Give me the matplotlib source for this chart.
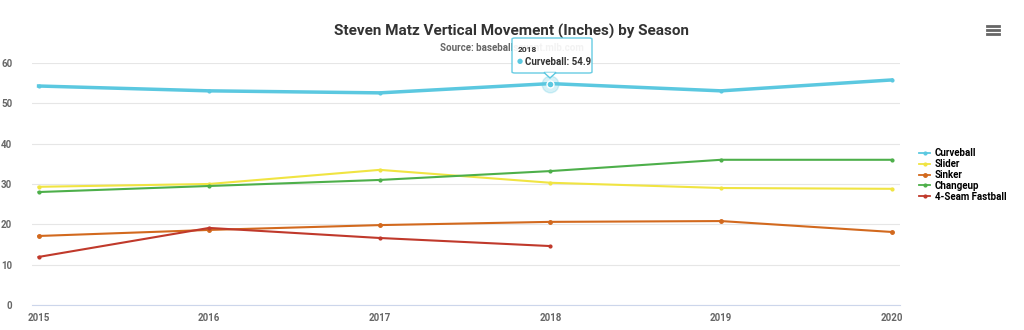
import matplotlib.pyplot as plt
from matplotlib.patches import FancyBboxPatch, Polygon

plt.rcParams['font.family'] = ['Roboto', 'DejaVu Sans']

seasons = [2015, 2016, 2017, 2018, 2019, 2020]
curveball = [54.3, 53.1, 52.6, 54.9, 53.1, 55.8]
slider = [29.3, 30.0, 33.5, 30.3, 29.0, 28.8]
sinker = [17.1, 18.6, 19.8, 20.6, 20.8, 18.1]
changeup = [28.0, 29.5, 31.0, 33.2, 36.0, 36.0]
fastball_years = [2015, 2016, 2017, 2018]
fastball = [11.9, 19.1, 16.6, 14.6]

fig = plt.figure(figsize=(10.24, 3.3), dpi=100)
ax = fig.add_axes([0.031, 0.076, 0.848, 0.733])

ax.plot(seasons, curveball, color='#5bc8e0', lw=2.5, marker='o', ms=2, label='Curveball')
ax.plot(seasons, slider, color='#f0e442', lw=1.5, marker='o', ms=2, label='Slider')
ax.plot(seasons, sinker, color='#d2691e', lw=1.5, marker='o', ms=2.5, label='Sinker')
ax.plot(seasons, changeup, color='#4daf4a', lw=1.5, marker='o', ms=2, label='Changeup')
ax.plot(fastball_years, fastball, color='#c0392b', lw=1.5, marker='o', ms=2, label='4-Seam Fastball')

# hovered point
ax.plot(2018, curveball[3], 'o', color='#5bc8e0', ms=12, alpha=0.25, zorder=5)
ax.plot(2018, curveball[3], 'o', color='#5bc8e0', mec='white', ms=5, zorder=6)

ax.set_xlim(2014.96, 2020.05)
ax.set_ylim(0, 60)
ax.set_xticks(seasons)
ax.set_yticks(range(0, 61, 10))
ax.grid(axis='y', color='#e6e6e6', lw=0.8)
ax.set_axisbelow(True)
for s in ['top', 'right', 'left']:
    ax.spines[s].set_visible(False)
ax.spines['bottom'].set_color('#ccd6eb')
ax.tick_params(axis='both', length=0, labelsize=7, labelcolor='#666666')
ax.tick_params(axis='x', pad=6)
ax.tick_params(axis='y', pad=14)
for lab in ax.get_xticklabels() + ax.get_yticklabels():
    lab.set_fontweight('bold')

fig.text(0.5, 0.905, 'Steven Matz Vertical Movement (Inches) by Season', ha='center',
         va='center', fontsize=11, fontweight='bold', color='#333333')
fig.text(0.5, 0.855, 'Source: baseballsavant.mlb.com', ha='center', va='center',
         fontsize=7, fontweight='bold', color='#666666')

# tooltip
tip = FancyBboxPatch((512 / 1024, 1 - 73 / 330), 80 / 1024, 35 / 330,
                     boxstyle='round,pad=0,rounding_size=0.003', transform=fig.transFigure,
                     facecolor='white', edgecolor='#5bc8e0', lw=1, alpha=0.92, zorder=10)
fig.patches.append(tip)
arrow = Polygon([(544 / 1024, 1 - 72.5 / 330), (556 / 1024, 1 - 72.5 / 330), (550 / 1024, 1 - 78 / 330)],
                closed=True, transform=fig.transFigure, facecolor='white', edgecolor='#5bc8e0',
                lw=1, zorder=10)
fig.patches.append(arrow)
fig.patches.append(Polygon([(545 / 1024, 1 - 72.5 / 330), (555 / 1024, 1 - 72.5 / 330), (550 / 1024, 1 - 76 / 330)],
                           closed=True, transform=fig.transFigure, facecolor='white', edgecolor='none',
                           zorder=10.5))
fig.text(518 / 1024, 1 - 49 / 330, '2018', fontsize=6, fontweight='bold', color='#333333',
         va='center', zorder=11)
fig.text(517 / 1024, 1 - 62 / 330, '\u25cf', fontsize=5, color='#5bc8e0', va='center', zorder=11)
fig.text(525 / 1024, 1 - 62 / 330, 'Curveball: 54.9', fontsize=7, fontweight='bold',
         color='#333333', va='center', zorder=11)

# menu icon
for yy in [26, 30, 34]:
    fig.add_artist(plt.Line2D([987 / 1024, 999 / 1024], [1 - yy / 330] * 2, color='#666666', lw=2))

leg = ax.legend(loc='upper left', bbox_to_anchor=(1.012, 0.685), frameon=False,
                handlelength=1.1, handletextpad=0.5, labelspacing=0.1,
                prop={'weight': 'bold', 'size': 7})
for h in leg.legend_handles:
    h.set_linewidth(1.3)

fig.savefig('out.png', dpi=100)
